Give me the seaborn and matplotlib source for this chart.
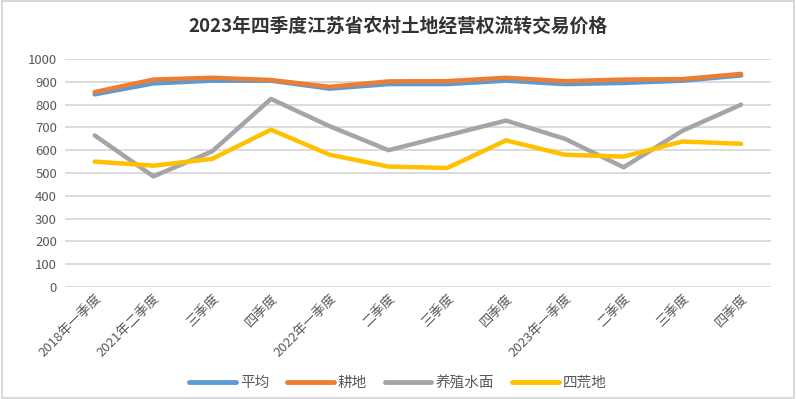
import numpy as np
import pandas as pd
import seaborn as sns
import matplotlib.pyplot as plt
from matplotlib.patches import Rectangle

# 数据
quarters = ['2018年一季度', '2021年二季度', '三季度', '四季度',
            '2022年一季度', '二季度', '三季度', '四季度',
            '2023年一季度', '二季度', '三季度', '四季度']
avg = [845, 893, 905, 905, 870, 890, 890, 905, 890, 895, 905, 928]
farmland = [855, 910, 918, 908, 878, 902, 903, 918, 903, 910, 912, 935]
aquaculture = [665, 485, 595, 825, 705, 600, 665, 730, 650, 525, 685, 800]
wasteland = [550, 532, 562, 690, 580, 528, 522, 643, 580, 572, 638, 628]

series = ['平均', '耕地', '养殖水面', '四荒地']
colors = ['#5B9BD5', '#ED7D31', '#A5A5A5', '#FFC000']

df = pd.DataFrame({'idx': np.arange(len(quarters)), '平均': avg, '耕地': farmland,
                   '养殖水面': aquaculture, '四荒地': wasteland})
long = df.melt(id_vars='idx', var_name='类别', value_name='价格')

sns.set_style('white')
plt.rcParams['font.family'] = ['Noto Sans CJK SC', 'DejaVu Sans']

fig = plt.figure(figsize=(7.96, 3.99), dpi=100)
ax = fig.add_axes([0.082, 0.281, 0.886, 0.571])

sns.lineplot(data=long, x='idx', y='价格', hue='类别', hue_order=series,
             palette=colors, linewidth=3.2, sort=False, ax=ax, legend=False)

ax.set_xlim(-0.5, len(quarters) - 0.5)
ax.set_ylim(0, 1000)
ax.set_yticks(range(0, 1001, 100))
ax.grid(axis='y', color='#D9D9D9', linewidth=1.3)
ax.set_axisbelow(True)
for s in ax.spines.values():
    s.set_visible(False)
ax.set_xlabel('')
ax.set_ylabel('')
ax.set_xticks(range(len(quarters)))
ax.set_xticklabels(quarters, rotation=45, ha='right', rotation_mode='anchor',
                   fontsize=9.5, color='#595959')
ax.tick_params(axis='y', labelsize=9.5, labelcolor='#595959', length=0, pad=6)
ax.tick_params(axis='x', length=0, pad=4)

fig.suptitle('2023年四季度江苏省农村土地经营权流转交易价格', y=0.935, va='center',
             fontsize=13.5, fontweight='bold', color='#333333')

handles = [plt.Line2D([0], [0], color=c, linewidth=3.5) for c in colors]
fig.legend(handles, series, loc='center', bbox_to_anchor=(0.5, 0.04), ncol=4,
           frameon=False, fontsize=10.5, handlelength=3.2, columnspacing=1.2,
           handletextpad=0.3, labelcolor='#595959')

fig.patches.append(Rectangle((0.002, 0.003), 0.996, 0.994, transform=fig.transFigure,
                             fill=False, edgecolor='#D9D9D9', linewidth=1.5))

fig.savefig('out.png', dpi=100)
